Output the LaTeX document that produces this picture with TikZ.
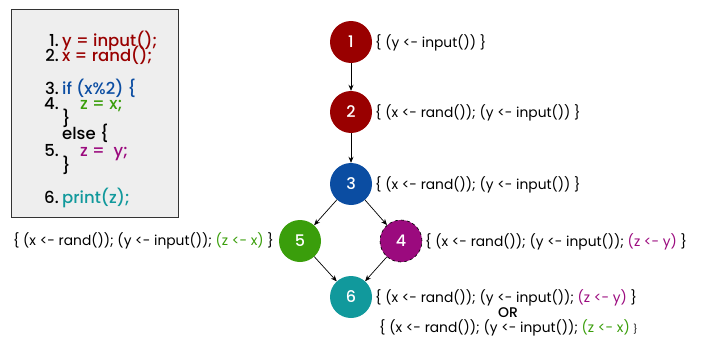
\documentclass[tikz,border=0pt]{standalone}
\usepackage{fontspec}
\setmainfont{Poppins}
\newfontfamily\codefont{Poppins}[UprightFont=* Medium]
\usetikzlibrary{arrows.meta}
\definecolor{cred}{HTML}{990000}
\definecolor{cblue}{HTML}{0B4DA2}
\definecolor{cgreen}{HTML}{3A9E0B}
\definecolor{cpurple}{HTML}{9B0A7E}
\definecolor{cteal}{HTML}{11999C}
\definecolor{boxbg}{HTML}{EEEEEE}
\begin{document}
\begin{tikzpicture}[x=1pt,y=-1pt,
  state/.style={circle,minimum size=42pt,inner sep=0pt,text=white,font=\fontsize{16}{16}\selectfont\codefont},
  lab/.style={font=\fontsize{13.8}{14}\selectfont,inner sep=0pt},
  code/.style={font=\fontsize{16.5}{16}\selectfont\codefont,inner sep=0pt,anchor=base west,text height=0.72em,text depth=0.18em},
  num/.style={font=\fontsize{16.5}{16}\selectfont\codefont,inner sep=0pt,anchor=base east,text height=0.72em,text depth=0.18em},
  edge/.style={-{Stealth[length=6pt,width=5pt]},line width=0.7pt}]
\useasboundingbox (0,0) rectangle (701,345);
\node[draw=black!80,fill=boxbg,line width=0.8pt,minimum width=167pt,minimum height=208pt,anchor=north west] (box) at (11,9) {};
% code lines
\node[num] (n1) at (59,46.5) {1.};
\node[code,text=cred] (c1) at (62,46.5) {y = input();};
\node[num] (n2) at (59,61.5) {2.};
\node[code,text=cred] (c2) at (62,61.5) {x = rand();};
\node[num] (n3) at (59,94.5) {3.};
\node[code,text=cblue] (c3) at (62,94.5) {if (x\%2) \{};
\node[num] (n4) at (59,109.5) {4.};
\node[code,text=cgreen] (c4) at (80,109.5) {z = x;};
\node[code] (c4b) at (62,124.5) {\}};
\node[code] (c4c) at (62,139.5) {else \{};
\node[num] (n5) at (59,156.5) {5.};
\node[code,text=cpurple] (c5) at (80,156.5) {z = ~y;};
\node[code] (c5b) at (62,171.5) {\}};
\node[num] (n6) at (59,203) {6.};
\node[code,text=cteal] (c6) at (62,203) {print(z);};
% states
\node[state,fill=cred] (s1) at (351,42) {1};
\node[state,fill=cred] (s2) at (351,112) {2};
\node[state,fill=cblue] (s3) at (351,184) {3};
\node[state,fill=cgreen] (s5) at (300,241) {5};
\node[state,fill=cpurple,draw=black,dashed,line width=0.6pt] (s4) at (401,241) {4};
\node[state,fill=cteal] (s6) at (351,297) {6};
\draw[edge] (s1) -- (s2);
\draw[edge] (s2) -- (s3);
\draw[edge] (s3) -- (s5);
\draw[edge] (s3) -- (s4);
\draw[edge] (s5) -- (s6);
\draw[edge] (s4) -- (s6);
% labels
\node[lab,anchor=west] (l1) at (375,43) {\{ (y <- input()) \}};
\node[lab,anchor=west] (l2) at (375,113) {\{ (x <- rand()); (y <- input()) \}};
\node[lab,anchor=west] (l3) at (375,185) {\{ (x <- rand()); (y <- input()) \}};
\node[lab,anchor=east] (l5) at (274,241) {\{ (x <- rand()); (y <- input()); \textcolor{cgreen}{(z <- x)} \}};
\node[lab,anchor=west] (l4) at (425,242) {\{ (x <- rand()); (y <- input()); \textcolor{cpurple}{(z <- y)} \}};
\node[lab,anchor=west] (l6) at (375,298) {\{ (x <- rand()); (y <- input()); \textcolor{cpurple}{(z <- y)} \}};
\node[lab,font=\fontsize{14}{14}\selectfont\codefont] (lor) at (508,313) {OR};
\node[lab,anchor=west] (l6b) at (379,328) {\{ (x <- rand()); (y <- input()); \textcolor{cgreen}{(z <- x)} {\small\}}};
\end{tikzpicture}
\end{document}
